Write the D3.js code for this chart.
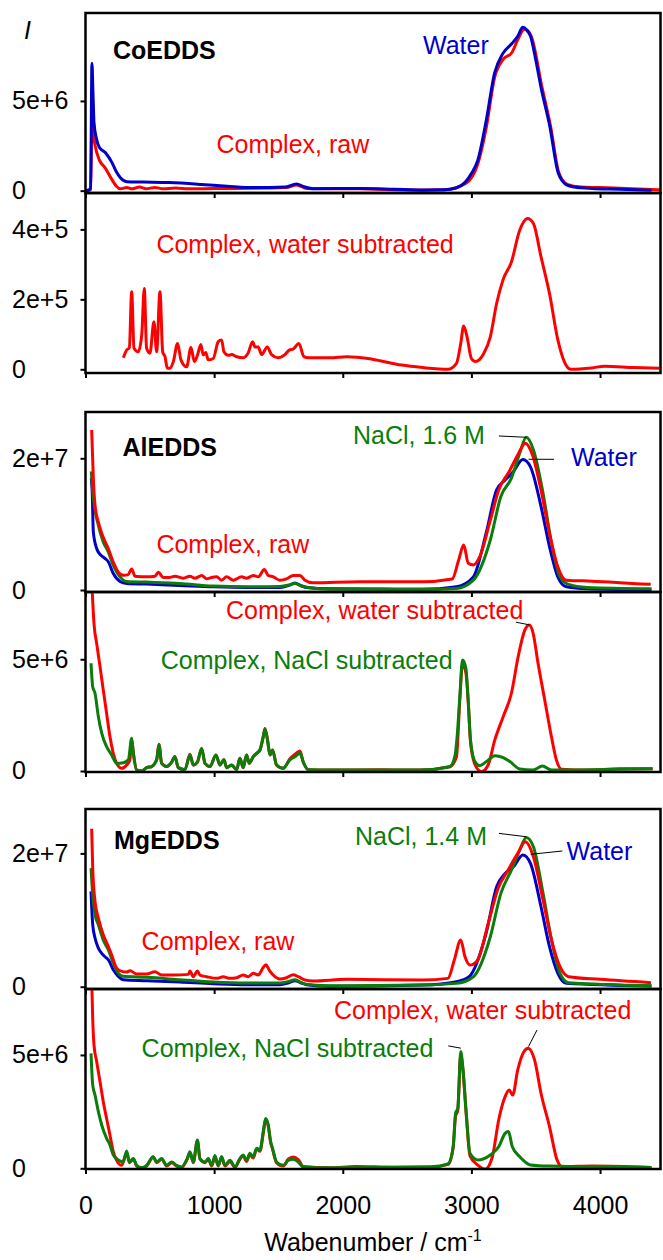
<!DOCTYPE html>
<html>
<head>
<meta charset="utf-8">
<script src="https://cdn.jsdelivr.net/npm/d3@7"></script>
<style>
  body { margin: 0; background: #fff; }
  text { font-family: "Liberation Sans", Arial, sans-serif; }
</style>
</head>
<body>
<div id="chart"></div>
<script>
// wavenumber (cm-1), intensity
const coWater = [[5,0],[40,0.1e6],[50,7.1e6],[58,5.5e6],[66,3.8e6],[85,2.9e6],[108,2.4e6],[157,2.1e6],[207,1.55e6],[240,1.05e6],[273,0.7e6],[322,0.5e6],[450,0.48e6],[650,0.45e6],[900,0.35e6],[1100,0.25e6],[1310,0.17e6],[1550,0.2e6],[1640,0.37e6],[1700,0.22e6],[1770,0.11e6],[2130,0.12e6],[2400,0.08e6],[2625,0.04e6],[2790,0.05e6],[2880,0.15e6],[2955,0.5e6],[3000,0.95e6],[3050,1.7e6],[3115,3.9e6],[3180,6.55e6],[3245,7.65e6],[3315,8.2e6],[3360,8.6e6],[3400,9.1e6],[3430,8.95e6],[3460,8.6e6],[3500,7.3e6],[3540,5.8e6],[3610,3.57e6],[3675,0.98e6],[3740,0.32e6],[3800,0.2e6],[3940,0.12e6],[4150,0.08e6],[4400,0.02e6]];
const coRaw = [[10,0],[40,0.05e6],[50,4.0e6],[60,3.2e6],[75,2.5e6],[108,1.7e6],[150,1.3e6],[207,0.6e6],[240,0.25e6],[273,0.1e6],[320,0.18e6],[360,0.1e6],[420,0.2e6],[470,0.1e6],[540,0.18e6],[600,0.1e6],[700,0.15e6],[800,0.1e6],[1000,0.12e6],[1300,0.13e6],[1560,0.17e6],[1640,0.32e6],[1720,0.12e6],[2130,0.1e6],[2625,0.03e6],[2790,0.05e6],[2955,0.4e6],[3050,1.5e6],[3115,3.5e6],[3180,6.3e6],[3245,7.3e6],[3315,7.7e6],[3360,8.4e6],[3410,9.0e6],[3440,8.9e6],[3470,8.5e6],[3545,5.9e6],[3615,3.6e6],[3680,1.0e6],[3745,0.35e6],[3850,0.2e6],[4000,0.17e6],[4200,0.12e6],[4470,0.05e6]];
const coSubWater = [[294,33e3],[320,55e3],[341,62e3],[359,222e3],[377,60e3],[410,50e3],[437,98e3],[457,231e3],[475,60e3],[501,46e3],[532,136e3],[553,50e3],[579,222e3],[600,50e3],[618,36e3],[636,3e3],[657,3e3],[683,22e3],[716,74e3],[742,27e3],[786,7e3],[820,62e3],[846,22e3],[870,40e3],[897,71e3],[915,41e3],[935,48e3],[954,27e3],[993,31e3],[1032,79e3],[1058,84e3],[1076,50e3],[1110,40e3],[1136,42e3],[1175,36e3],[1226,33e3],[1265,47e3],[1299,79e3],[1317,64e3],[1343,64e3],[1369,42e3],[1413,64e3],[1446,42e3],[1498,33e3],[1550,42e3],[1584,55e3],[1615,58e3],[1659,74e3],[1698,36e3],[1732,33e3],[1900,33e3],[2031,36e3],[2227,29e3],[2457,12e3],[2621,5e3],[2817,0],[2884,17e3],[2917,74e3],[2940,124e3],[2966,93e3],[3000,31e3],[3032,22e3],[3097,46e3],[3147,93e3],[3196,188e3],[3245,255e3],[3311,307e3],[3376,398e3],[3436,431e3],[3482,417e3],[3541,322e3],[3607,217e3],[3672,84e3],[3722,22e3],[3771,0],[3935,4e3],[4034,9e3],[4264,5e3],[4461,3e3]];

const alWater = [[45,17e6],[52,15e6],[61,8.8e6],[87,6.3e6],[113,5.4e6],[151,4.8e6],[177,4.3e6],[216,2.5e6],[268,1.3e6],[320,1.0e6],[475,0.9e6],[734,0.7e6],[993,0.5e6],[1252,0.4e6],[1511,0.4e6],[1580,0.7e6],[1628,1.07e6],[1670,0.7e6],[1719,0.4e6],[1900,0.2e6],[2300,0.15e6],[2621,0.1e6],[2884,0.5e6],[3015,2.0e6],[3114,8.6e6],[3196,15.2e6],[3262,16.7e6],[3327,18.0e6],[3400,19.8e6],[3459,18.7e6],[3541,12.7e6],[3607,6.6e6],[3672,2.0e6],[3738,0.5e6],[3900,0.2e6],[4400,0.05e6]];
const alNaCl = [[45,18e6],[52,16e6],[61,14e6],[100,9.8e6],[138,7.3e6],[177,5.8e6],[216,3.75e6],[268,2.0e6],[320,1.3e6],[475,1.2e6],[734,1.0e6],[993,0.6e6],[1252,0.5e6],[1511,0.55e6],[1580,0.75e6],[1628,1.0e6],[1680,0.6e6],[1745,0.35e6],[1900,0.15e6],[2300,0.1e6],[2621,0.1e6],[2884,0.25e6],[3015,1.5e6],[3147,7.6e6],[3229,14.2e6],[3311,17.0e6],[3376,20.8e6],[3426,23.2e6],[3482,21.3e6],[3557,14.7e6],[3623,7.1e6],[3689,2.0e6],[3750,0.9e6],[3900,0.4e6],[4400,0.2e6]];
const alRaw = [[48,24.3e6],[61,16.9e6],[74,12.9e6],[100,10.3e6],[138,8.0e6],[177,6.3e6],[216,4.25e6],[255,2.73e6],[294,2.23e6],[330,2.3e6],[359,3.2e6],[385,2.1e6],[475,2.0e6],[540,2.1e6],[566,2.7e6],[605,1.9e6],[650,1.9e6],[695,2.1e6],[760,1.8e6],[812,2.1e6],[851,1.8e6],[903,2.2e6],[942,1.7e6],[980,1.9e6],[1019,2.0e6],[1058,1.5e6],[1097,2.0e6],[1149,1.5e6],[1213,2.0e6],[1252,1.8e6],[1304,2.2e6],[1343,2.0e6],[1390,3.1e6],[1421,2.2e6],[1460,2.0e6],[1511,1.5e6],[1563,1.7e6],[1615,2.2e6],[1667,2.2e6],[1706,1.5e6],[1770,1.1e6],[2128,1.26e6],[2621,1.26e6],[2851,1.67e6],[2901,4.56e6],[2940,6.83e6],[2976,4.05e6],[3015,3.8e6],[3065,5.06e6],[3147,10.6e6],[3212,15.2e6],[3294,18.0e6],[3360,20.5e6],[3419,22.3e6],[3475,20.5e6],[3541,15.2e6],[3607,8.6e6],[3672,3.5e6],[3738,1.5e6],[3935,1.35e6],[4394,0.86e6]];

const alSubWater = [[45,9.0e6],[56,7.6e6],[66,6.6e6],[87,5.7e6],[113,4.67e6],[138,3.63e6],[164,2.58e6],[190,1.54e6],[216,0.79e6],[242,0.34e6],[281,0.12e6],[320,0.27e6],[345,0.5e6],[359,1.4e6],[372,0.8e6],[398,0.05e6],[437,0],[475,0.15e6],[514,0.2e6],[553,0.5e6],[571,1.2e6],[592,0.35e6],[631,0.2e6],[670,0.4e6],[695,0.65e6],[721,0.15e6],[773,0.06e6],[812,0.75e6],[838,0.27e6],[870,0.4e6],[903,1.0e6],[929,0.34e6],[968,0.2e6],[1014,0.72e6],[1045,0.27e6],[1076,0.5e6],[1097,0.15e6],[1136,0.27e6],[1175,0.06e6],[1200,0.57e6],[1226,0.15e6],[1252,0.72e6],[1273,0.34e6],[1304,0.64e6],[1330,0.79e6],[1356,0.94e6],[1382,1.54e6],[1395,1.9e6],[1415,1.4e6],[1434,0.72e6],[1454,0.94e6],[1485,0.27e6],[1537,0.12e6],[1589,0.55e6],[1628,0.75e6],[1667,0.9e6],[1693,0.4e6],[1732,0.06e6],[1900,0.04e6],[2300,0.06e6],[2598,0.04e6],[2832,0.19e6],[2884,0.64e6],[2910,3.2e6],[2931,4.8e6],[2957,4.4e6],[2975,3.1e6],[2993,1.3e6],[3027,0.3e6],[3078,-0.03e6],[3130,0.27e6],[3182,1.39e6],[3247,2.43e6],[3311,3.48e6],[3363,5.1e6],[3415,6.3e6],[3449,6.53e6],[3480,6.16e6],[3518,4.82e6],[3570,3.18e6],[3622,1.54e6],[3661,0.49e6],[3700,0.08e6],[3900,0.04e6],[4150,0.1e6],[4409,0.1e6]];
const alSubNaCl = [[43,4.82e6],[56,3.77e6],[74,3.48e6],[100,2.43e6],[126,1.69e6],[164,1.09e6],[203,0.72e6],[242,0.34e6],[294,0.37e6],[333,0.5e6],[359,1.46e6],[372,0.8e6],[398,0.04e6],[437,0],[475,0.15e6],[514,0.2e6],[553,0.5e6],[571,1.16e6],[592,0.34e6],[631,0.2e6],[670,0.4e6],[695,0.64e6],[721,0.15e6],[773,0.06e6],[812,0.72e6],[838,0.27e6],[870,0.4e6],[903,1.01e6],[929,0.34e6],[968,0.2e6],[1014,0.72e6],[1045,0.27e6],[1076,0.5e6],[1097,0.15e6],[1136,0.27e6],[1175,0.06e6],[1200,0.57e6],[1226,0.15e6],[1252,0.72e6],[1273,0.34e6],[1304,0.64e6],[1330,0.79e6],[1356,0.94e6],[1382,1.54e6],[1395,1.87e6],[1415,1.39e6],[1434,0.72e6],[1454,0.94e6],[1485,0.27e6],[1537,0.12e6],[1589,0.5e6],[1628,0.64e6],[1667,0.79e6],[1693,0.4e6],[1732,0.06e6],[1900,0.04e6],[2598,0.04e6],[2832,0.19e6],[2871,0.64e6],[2889,1.54e6],[2910,3.33e6],[2931,4.97e6],[2957,4.6e6],[2975,3.18e6],[2993,1.39e6],[3027,0.42e6],[3065,0.24e6],[3117,0.42e6],[3182,0.68e6],[3247,0.6e6],[3299,0.42e6],[3376,0.09e6],[3480,0.04e6],[3552,0.22e6],[3622,0.04e6],[4409,0.1e6]];

const mgWater = [[43,14.3e6],[56,9.3e6],[74,7.3e6],[100,5.8e6],[126,5.0e6],[151,4.5e6],[177,4.05e6],[216,2.55e6],[255,1.55e6],[294,1.05e6],[475,0.9e6],[734,0.7e6],[993,0.45e6],[1252,0.3e6],[1511,0.3e6],[1580,0.6e6],[1628,0.9e6],[1680,0.55e6],[1719,0.3e6],[1900,0.05e6],[2621,0.25e6],[2884,0.75e6],[2982,1.5e6],[3114,8.0e6],[3196,15.0e6],[3262,17.0e6],[3327,18.0e6],[3400,19.75e6],[3459,18.5e6],[3541,12.0e6],[3607,6.0e6],[3672,2.0e6],[3738,0.5e6],[4400,0.1e6]];
const mgNaCl = [[43,17.8e6],[56,13.8e6],[74,10.8e6],[100,9.3e6],[138,7.0e6],[177,5.55e6],[216,3.55e6],[255,2.05e6],[294,1.55e6],[475,1.4e6],[734,1.05e6],[993,0.7e6],[1252,0.55e6],[1511,0.55e6],[1580,0.8e6],[1628,1.05e6],[1690,0.5e6],[1745,0.3e6],[1900,0.15e6],[2621,0.25e6],[2884,0.5e6],[3015,1.5e6],[3147,7.5e6],[3229,14.0e6],[3311,17.5e6],[3376,20.5e6],[3426,22.4e6],[3482,21.0e6],[3557,14.0e6],[3623,7.0e6],[3689,2.0e6],[3755,0.6e6],[4400,0.15e6]];
const mgRaw = [[48,23.7e6],[56,17.8e6],[74,12.8e6],[100,10.3e6],[138,7.8e6],[177,6.06e6],[203,4.8e6],[242,2.8e6],[281,2.3e6],[320,2.2e6],[346,2.4e6],[398,1.9e6],[475,1.9e6],[540,2.25e6],[592,1.75e6],[683,1.75e6],[799,1.85e6],[812,2.35e6],[838,1.5e6],[870,2.35e6],[890,1.75e6],[942,1.5e6],[1019,1.25e6],[1071,1.5e6],[1123,1.25e6],[1175,1.35e6],[1226,1.75e6],[1265,1.5e6],[1304,2.0e6],[1343,1.75e6],[1377,2.75e6],[1403,3.3e6],[1428,2.5e6],[1459,1.75e6],[1511,1.15e6],[1563,1.35e6],[1615,1.8e6],[1654,1.5e6],[1706,1.0e6],[1770,0.85e6],[2030,1.1e6],[2621,1.0e6],[2818,1.25e6],[2867,4.0e6],[2917,7.0e6],[2950,4.5e6],[2989,3.25e6],[3048,4.0e6],[3131,9.5e6],[3212,15.0e6],[3278,17.25e6],[3360,20.0e6],[3419,21.75e6],[3482,19.5e6],[3557,13.0e6],[3623,7.0e6],[3689,3.0e6],[3755,1.5e6],[4001,1.1e6],[4396,0.6e6]];

const mgSubWater = [[45,9.0e6],[56,6.6e6],[66,5.44e6],[87,4.7e6],[113,3.82e6],[138,2.94e6],[164,2.2e6],[190,1.47e6],[216,0.73e6],[242,0.35e6],[281,0.13e6],[320,0.7e6],[341,0.25e6],[372,0.4e6],[398,0.1e6],[437,0],[475,0.1e6],[527,0.5e6],[553,0.25e6],[592,0.4e6],[631,0.1e6],[670,0.25e6],[708,0.1e6],[747,0.04e6],[791,0.4e6],[812,0.7e6],[838,0.25e6],[870,1.2e6],[890,0.4e6],[929,0.25e6],[955,0.4e6],[981,0.1e6],[1006,0.5e6],[1032,0.1e6],[1058,0.5e6],[1084,0.1e6],[1123,0.3e6],[1162,0.04e6],[1200,0.4e6],[1226,0.55e6],[1252,0.3e6],[1278,0.6e6],[1304,0.45e6],[1330,0.85e6],[1356,0.75e6],[1382,1.55e6],[1400,2.15e6],[1421,1.85e6],[1439,1.15e6],[1454,0.85e6],[1485,0.25e6],[1537,0.1e6],[1576,0.4e6],[1615,0.5e6],[1654,0.38e6],[1693,0.08e6],[1900,0.02e6],[2100,0.08e6],[2400,0.05e6],[2687,0.05e6],[2818,0.17e6],[2858,0.9e6],[2877,2.3e6],[2894,2.55e6],[2917,5.0e6],[2933,4.4e6],[2960,2.35e6],[2989,0.55e6],[3048,0.15e6],[3107,-0.04e6],[3163,0.51e6],[3212,2.13e6],[3262,3.16e6],[3294,3.45e6],[3321,3.23e6],[3360,4.34e6],[3409,5.15e6],[3441,5.3e6],[3491,4.78e6],[3541,3.31e6],[3607,1.84e6],[3666,0.37e6],[3705,0.07e6],[3935,0.1e6],[4400,0.04e6]];
const mgSubNaCl = [[43,5.07e6],[56,3.68e6],[74,3.23e6],[100,2.5e6],[126,1.91e6],[164,1.32e6],[190,1.03e6],[216,0.59e6],[255,0.37e6],[294,0.28e6],[320,0.76e6],[341,0.28e6],[372,0.43e6],[398,0.13e6],[437,0.03e6],[475,0.13e6],[527,0.51e6],[553,0.28e6],[592,0.43e6],[631,0.13e6],[670,0.28e6],[708,0.13e6],[747,0.06e6],[791,0.43e6],[812,0.73e6],[838,0.28e6],[870,1.25e6],[890,0.43e6],[929,0.28e6],[955,0.43e6],[981,0.13e6],[1006,0.56e6],[1032,0.13e6],[1058,0.51e6],[1084,0.13e6],[1123,0.35e6],[1162,0.06e6],[1200,0.43e6],[1226,0.59e6],[1252,0.35e6],[1278,0.66e6],[1304,0.5e6],[1330,0.88e6],[1356,0.8e6],[1382,1.62e6],[1400,2.2e6],[1421,1.91e6],[1439,1.18e6],[1454,0.88e6],[1485,0.28e6],[1537,0.13e6],[1576,0.35e6],[1615,0.4e6],[1654,0.28e6],[1693,0.06e6],[1900,0.02e6],[2687,0.07e6],[2818,0.19e6],[2858,0.95e6],[2877,2.43e6],[2894,2.65e6],[2917,5.15e6],[2933,4.48e6],[2960,2.43e6],[2989,0.66e6],[3048,0.37e6],[3147,0.59e6],[3212,0.95e6],[3262,1.54e6],[3288,1.62e6],[3318,0.95e6],[3376,0.51e6],[3459,0.15e6],[3607,0.1e6],[4400,0.04e6]];

const xTicks = [0, 1000, 2000, 3000, 4000];
const xDomain = [0, 4470];

const RED = "#ff0000", BLUE = "#0000c8", GREEN = "#0a7d0a";

// panel layout: top px, y-domain, y ticks, series in draw order, labels (data coords)
const panels = [
    { top: 13, domain: [-1.3e5, 9.9e6], ticks: [0, 5e6],
      series: [[coRaw, RED], [coWater, BLUE]],
      labels: [
        { t: "CoEDDS", x: 214, y: 7.34e6, c: "#000", bold: true },
        { t: "Water", x: 2624, y: 7.62e6, c: BLUE },
        { t: "Complex, raw", x: 1018, y: 2.08e6, c: RED }
      ], leaders: [] },
    { top: 193, domain: [-1.06e4, 5.04e5], ticks: [0, 2e5, 4e5],
      series: [[coSubWater, RED]],
      labels: [{ t: "Complex, water subtracted", x: 551, y: 3.33e5, c: RED }], leaders: [] },
    { top: 412, domain: [-3.0e5, 2.703e7], ticks: [0, 2e7],
      series: [[alWater, BLUE], [alNaCl, GREEN], [alRaw, RED]],
      labels: [
        { t: "AlEDDS", x: 288, y: 2.035e7, c: "#000", bold: true },
        { t: "NaCl, 1.6 M", x: 2079, y: 2.217e7, c: GREEN },
        { t: "Water", x: 3774, y: 1.883e7, c: BLUE },
        { t: "Complex, raw", x: 551, y: 5.57e6, c: RED }
      ],
      leaders: [[3214, 2.339e7, 3427, 2.319e7], [3444, 1.985e7, 3642, 1.985e7]] },
    { top: 592, domain: [-4.5e4, 8.01e6], ticks: [0, 5e6],
      series: [[alSubWater, RED], [alSubNaCl, GREEN]],
      labels: [
        { t: "Complex, water subtracted", x: 1092, y: 6.79e6, c: RED },
        { t: "Complex, NaCl subtracted", x: 585, y: 4.55e6, c: GREEN }
      ],
      leaders: [[3346, 6.66e6, 3451, 6.54e6]] },
    { top: 809, domain: [-3.45e5, 2.666e7], ticks: [0, 2e7],
      series: [[mgWater, BLUE], [mgNaCl, GREEN], [mgRaw, RED]],
      labels: [
        { t: "MgEDDS", x: 222, y: 2.06e7, c: "#000", bold: true },
        { t: "NaCl, 1.4 M", x: 2095, y: 2.126e7, c: GREEN },
        { t: "Water", x: 3740, y: 1.90e7, c: BLUE },
        { t: "Complex, raw", x: 436, y: 5.5e6, c: RED }
      ],
      leaders: [[3214, 2.30e7, 3427, 2.25e7], [3461, 1.986e7, 3707, 2.036e7]] },
    { top: 989, domain: [-3.1e4, 7.91e6], ticks: [0, 5e6],
      series: [[mgSubWater, RED], [mgSubNaCl, GREEN]],
      labels: [
        { t: "Complex, water subtracted", x: 1932, y: 6.58e6, c: RED },
        { t: "Complex, NaCl subtracted", x: 436, y: 4.9e6, c: GREEN }
      ],
      leaders: [[3510, 6.10e6, 3444, 5.37e6], [2820, 5.40e6, 2918, 5.30e6]] }
];

const width = 663, height = 1260;
const left = 85.5, right = 660.5, panelH = 180;
const fontSize = 25;

const svg = d3.select("#chart").append("svg")
    .attr("width", width)
    .attr("height", height);

const xScale = d3.scaleLinear().domain(xDomain).range([left, right]);

function fmt(v) {
    return v === 0 ? "0" : v.toExponential(0);
}

panels.forEach((p, k) => {
    const bottom = p.top + panelH;
    const yScale = d3.scaleLinear().domain(p.domain).range([bottom, p.top]);
    const g = svg.append("g");

    g.append("clipPath").attr("id", "clip" + k)
        .append("rect")
        .attr("x", left).attr("y", p.top)
        .attr("width", right - left).attr("height", panelH);

    const line = d3.line()
        .x(d => xScale(d[0]))
        .y(d => yScale(d[1]))
        .curve(d3.curveMonotoneX);

    p.series.forEach(([data, color]) => {
        g.append("path")
            .datum(data)
            .attr("clip-path", `url(#clip${k})`)
            .attr("fill", "none")
            .attr("stroke", color)
            .attr("stroke-width", 3)
            .attr("stroke-linejoin", "round")
            .attr("d", line);
    });

    // y axis
    const yAxis = d3.axisLeft(yScale).tickValues(p.ticks).tickFormat(fmt).tickSize(5).tickSizeOuter(0);
    const ya = g.append("g")
        .attr("transform", `translate(${left},0)`)
        .call(yAxis);
    ya.select(".domain").remove();
    ya.selectAll("line").attr("stroke", "#000").attr("stroke-width", 2);
    ya.selectAll("text")
        .attr("x", 12 - left)
        .attr("text-anchor", "start")
        .attr("fill", "#000")
        .style("font-size", fontSize + "px")
        .style("font-family", '"Liberation Sans", Arial, sans-serif');

    // x axis ticks on each panel, labels on last only
    const last = k === panels.length - 1;
    const xAxis = d3.axisBottom(xScale).tickValues(xTicks).tickSize(5).tickSizeOuter(0)
        .tickFormat(last ? d3.format("d") : "");
    const xa = g.append("g")
        .attr("transform", `translate(0,${bottom})`)
        .call(xAxis);
    xa.select(".domain").remove();
    xa.selectAll("line").attr("stroke", "#000").attr("stroke-width", 2);
    xa.selectAll("text")
        .attr("y", 27)
        .attr("fill", "#000")
        .style("font-size", fontSize + "px")
        .style("font-family", '"Liberation Sans", Arial, sans-serif');

    // frame
    g.append("rect")
        .attr("x", left).attr("y", p.top)
        .attr("width", right - left).attr("height", panelH)
        .attr("fill", "none")
        .attr("stroke", "#000")
        .attr("stroke-width", 2.5);

    p.leaders.forEach(l => {
        g.append("line")
            .attr("x1", xScale(l[0])).attr("y1", yScale(l[1]))
            .attr("x2", xScale(l[2])).attr("y2", yScale(l[3]))
            .attr("stroke", "#000")
            .attr("stroke-width", 1);
    });

    p.labels.forEach(lb => {
        g.append("text")
            .attr("x", xScale(lb.x))
            .attr("y", yScale(lb.y))
            .attr("fill", lb.c)
            .style("font-size", fontSize + "px")
            .style("font-weight", lb.bold ? "bold" : "normal")
            .text(lb.t);
    });
});

svg.append("text")
    .attr("x", 24).attr("y", 39)
    .style("font-size", fontSize + "px")
    .style("font-style", "italic")
    .text("I");

const title = svg.append("text")
    .attr("x", (left + right) / 2)
    .attr("y", 1251)
    .attr("text-anchor", "middle")
    .style("font-size", fontSize + "px");
title.append("tspan").text("Wabenumber / cm");
title.append("tspan").attr("dy", -10).style("font-size", "16px").text("-1");
</script>
</body>
</html>
